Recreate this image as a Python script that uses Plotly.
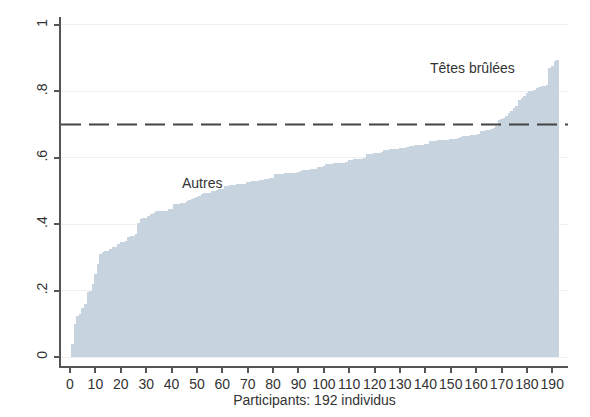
import plotly.graph_objects as go

# ---- data (sorted participant scores) ----
participants = list(range(1, 193))
scores = [
    0.04, 0.10, 0.125, 0.13, 0.147, 0.16, 0.197, 0.20, 0.22, 0.25,
    0.28, 0.31, 0.315, 0.32, 0.32, 0.325, 0.33, 0.33, 0.34, 0.345,
    0.345, 0.35, 0.36, 0.365, 0.365, 0.37, 0.405, 0.415, 0.42, 0.42,
    0.425, 0.43, 0.435, 0.44, 0.44, 0.44, 0.44, 0.44, 0.445, 0.445,
    0.46, 0.46, 0.462, 0.465, 0.465, 0.47, 0.473, 0.475, 0.48, 0.483,
    0.485, 0.49, 0.493, 0.495, 0.495, 0.50, 0.50, 0.503, 0.505, 0.505,
    0.515, 0.515, 0.517, 0.518, 0.518, 0.52, 0.52, 0.52, 0.522, 0.528,
    0.528, 0.53, 0.53, 0.53, 0.532, 0.532, 0.535, 0.535, 0.538, 0.54,
    0.55, 0.55, 0.55, 0.552, 0.553, 0.553, 0.555, 0.555, 0.555, 0.557,
    0.56, 0.562, 0.563, 0.563, 0.565, 0.565, 0.567, 0.573, 0.573, 0.575,
    0.58, 0.58, 0.582, 0.583, 0.583, 0.585, 0.585, 0.585, 0.587, 0.593,
    0.593, 0.595, 0.595, 0.597, 0.597, 0.60, 0.61, 0.61, 0.612, 0.613,
    0.615, 0.615, 0.617, 0.623, 0.624, 0.625, 0.625, 0.626, 0.627, 0.628,
    0.628, 0.63, 0.632, 0.636, 0.637, 0.638, 0.639, 0.64, 0.64, 0.642,
    0.643, 0.65, 0.651, 0.652, 0.653, 0.653, 0.654, 0.655, 0.655, 0.656,
    0.657, 0.658, 0.66, 0.664, 0.665, 0.666, 0.667, 0.668, 0.669, 0.67,
    0.672, 0.68, 0.682, 0.684, 0.685, 0.687, 0.69, 0.695, 0.715, 0.718,
    0.72, 0.725, 0.735, 0.74, 0.75, 0.755, 0.775, 0.78, 0.785, 0.795,
    0.80, 0.80, 0.805, 0.81, 0.812, 0.815, 0.815, 0.82, 0.87, 0.875,
    0.89, 0.895,
]
threshold = 0.7
x_ticks = list(range(0, 200, 10))
y_tickvals = [0, 0.2, 0.4, 0.6, 0.8, 1.0]
y_ticktext = ["0", ".2", ".4", ".6", ".8", "1"]
x_title = "Participants: 192 individus"
label_high = "Têtes brûlées"
label_low = "Autres"

FONT = "Liberation Sans, Arial, sans-serif"
TXT = "#333333"
AXC = "#555555"

fig = go.Figure()
fig.add_trace(go.Bar(
    x=participants, y=scores,
    marker=dict(color="#c7d3df", line=dict(width=0)),
    hoverinfo="x+y",
))

fig.add_shape(type="line", xref="paper", yref="y", x0=0, x1=1,
              y0=threshold, y1=threshold,
              line=dict(color="#444444", width=2, dash="20px,8px"))

fig.add_annotation(x=158.6, y=0.870, text=label_high, showarrow=False,
                   font=dict(family=FONT, size=14, color=TXT))
fig.add_annotation(x=51.9, y=0.524, text=label_low, showarrow=False,
                   font=dict(family=FONT, size=14, color=TXT))

fig.update_layout(
    width=590, height=417,
    margin=dict(l=61, r=22, t=17, b=51, pad=0),
    paper_bgcolor="white", plot_bgcolor="white",
    bargap=0,
    showlegend=False,
    font=dict(family=FONT, size=14, color=TXT),
    xaxis=dict(
        range=[-3.55, 196.2],
        tickmode="array", tickvals=x_ticks,
        tickangle=0, automargin=False,
        ticks="outside", ticklen=5, tickcolor=AXC, tickwidth=1.5,
        showline=True, linecolor=AXC, linewidth=1.5,
        showgrid=False, zeroline=False,
        ticklabelstandoff=-1,
        tickfont=dict(family=FONT, size=14, color=TXT),
        title=dict(text=x_title, standoff=0,
                   font=dict(family=FONT, size=14, color=TXT)),
    ),
    yaxis=dict(
        range=[-0.0271, 1.024],
        tickmode="array", tickvals=y_tickvals, ticktext=y_ticktext,
        tickangle=-90, automargin=False,
        ticks="outside", ticklen=5, tickcolor=AXC, tickwidth=1.5,
        showline=True, linecolor=AXC, linewidth=1.5,
        showgrid=True, gridcolor="#efefef", gridwidth=1,
        zeroline=False,
        ticklabelstandoff=2,
        tickfont=dict(family=FONT, size=14, color=TXT),
    ),
)

fig.write_html("out.html")
